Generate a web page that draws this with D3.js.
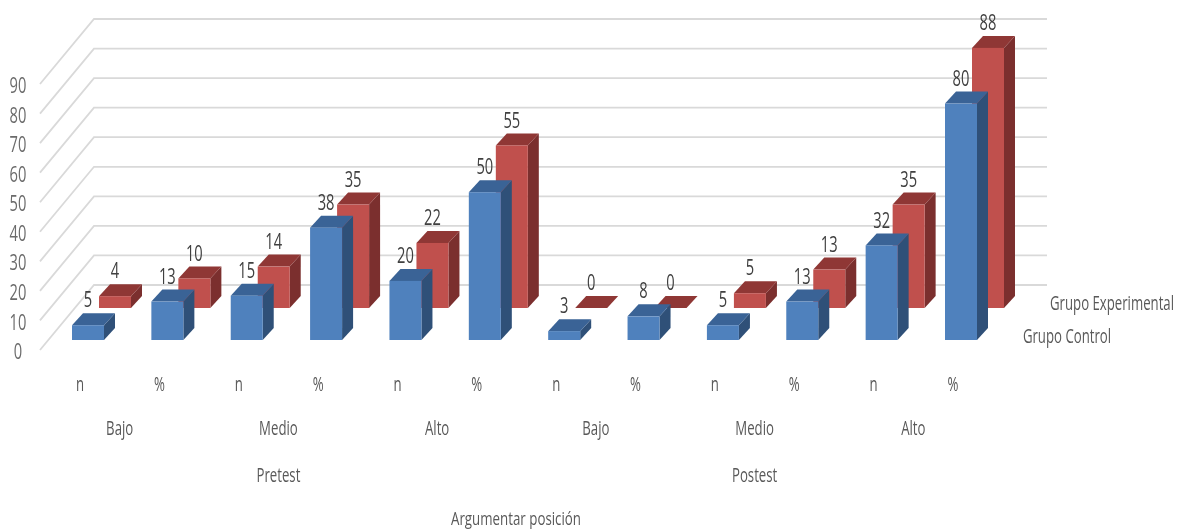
<!DOCTYPE html>
<html><head><meta charset="utf-8">
<style>html,body{margin:0;padding:0;background:#fff}svg{display:block;filter:blur(.45px)}text{font-family:"Open Sans",sans-serif;fill:#595959}</style>
<script src="https://cdn.jsdelivr.net/npm/d3@7/dist/d3.min.js"></script>
</head><body><svg id="c" width="1177" height="531"></svg>
<script>
const measures=["n","%","n","%","n","%","n","%","n","%","n","%"];
const levels=["Bajo","Medio","Alto","Bajo","Medio","Alto"];
const stages=["Pretest","Postest"];
const axisTitle="Argumentar posición";
const seriesNames=["Grupo Experimental","Grupo Control"];
const control=[5,13,15,38,20,50,3,8,5,13,32,80];
const experimental=[4,10,14,35,22,55,0,0,5,13,35,88];
const ticks=[0,10,20,30,40,50,60,70,80,90];

const svg=d3.select("#c");
const x=d3.scalePoint().domain(d3.range(12)).range([72,945]);
const y=d3.scaleLinear().domain([0,90]).range([350,84]);
const W=32, DX=11, DY=12;
const label=(s,px,py,size=20,sx=.66)=>svg.append("text").text(s)
  .attr("text-anchor","middle").attr("dominant-baseline","central")
  .attr("font-size",size).attr("transform",`translate(${px},${py}) scale(${sx},1)`);

// walls
const wallDX=54, wallDY=65, right=1047;
svg.append("g").selectAll("path").data(ticks).join("path")
  .attr("fill","none").attr("stroke","#d9d9d9").attr("stroke-width",1.8)
  .attr("d",t=>d3.line()([[40,y(t)],[40+wallDX,y(t)-wallDY],[right,y(t)-wallDY]]));
ticks.forEach(t=>label(t,18,y(t)+1,21,.7).style("fill","#6b6b6b"));

// bars
function bars(vals,ox,oy,front,top,side){
  const g=svg.append("g");
  vals.forEach((v,i)=>{
    const x0=x(i)+ox,x1=x0+W,yb=y(0)+oy,yt=y(v)+oy;
    g.append("path").attr("fill",side).attr("d",d3.line()([[x1,yt],[x1+DX,yt-DY],[x1+DX,yb-DY],[x1,yb]])+"Z");
    g.append("path").attr("fill",top).attr("d",d3.line()([[x0,yt],[x0+DX,yt-DY],[x1+DX,yt-DY],[x1,yt]])+"Z");
    if(v>0)g.append("rect").attr("x",x0).attr("y",yt).attr("width",W).attr("height",yb-yt).attr("fill",front);
  });
}
bars(experimental,27,-42,"#c0504d","#8f3735","#7b2f2e");
bars(control,0,-10,"#4f81bd","#3a6396","#2f5078");

// value labels
experimental.forEach((v,i)=>label(v,x(i)+27+W/2,y(v)-42-26,21,.7).style("fill","#404040"));
control.forEach((v,i)=>label(v,x(i)+W/2,y(v)-10-26,21,.7).style("fill","#404040"));

// category axis
measures.forEach((m,i)=>label(m,x(i)+8,383));
levels.forEach((l,i)=>label(l,(x(i*2)+x(i*2+1))/2+8,427));
stages.forEach((s,i)=>label(s,(x(i*6)+x(i*6+5))/2+8,474));
label(axisTitle,516,518,18,.74);

// series labels
label(seriesNames[0],1112,302);
label(seriesNames[1],1067,335);
</script></body></html>
